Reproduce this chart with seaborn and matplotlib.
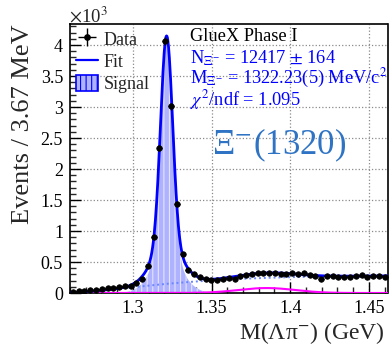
import numpy as np
import pandas as pd
import matplotlib
matplotlib.use("Agg")
import matplotlib.pyplot as plt
import seaborn as sns
from matplotlib.lines import Line2D
from matplotlib.patches import Patch
from matplotlib.ticker import MultipleLocator, FuncFormatter

# ---------------- data ----------------
bin_low = 1.26          # GeV
bin_width = 0.00367     # GeV (3.67 MeV)
counts = [0.015, 0.025, 0.035, 0.045, 0.055, 0.065, 0.080, 0.088, 0.095, 0.105,
          0.120, 0.160, 0.225, 0.430, 0.900, 2.340, 4.070, 3.010, 1.440, 0.630,
          0.370, 0.310, 0.265, 0.225, 0.215, 0.215, 0.226, 0.240, 0.230, 0.280,
          0.295, 0.305, 0.320, 0.330, 0.320, 0.315, 0.310, 0.310, 0.320, 0.310,
          0.330, 0.295, 0.280, 0.230, 0.280, 0.275, 0.260, 0.260, 0.260, 0.270,
          0.290, 0.260, 0.280, 0.270, 0.260]          # events x 10^3

# fit model parameters
sig_amp, sig_mean, sig_frac, sig_s1, sig_s2 = 4.0, 1.3214, 0.85, 0.0038, 0.0095
bg_norm, bg_thr, bg_tau, bg_pow = 0.28, 1.2553, 0.08, 1.5
refl_amp, refl_mean, refl_sigma = 0.08, 1.385, 0.018

x_ticks = [1.30, 1.35, 1.40, 1.45]
legend_labels = ["Data", "Fit", "Signal"]
info_lines = ["GlueX Phase I",
              r"N$_{\Xi^{-}}$ = 12417 $\pm$ 164",
              r"M$_{\Xi^{-}}$ = 1322.23(5) MeV/c$^{2}$",
              r"$\chi^{2}$/ndf = 1.095"]

# ---------------- derived ----------------
n_bins = len(counts)
counts = np.array(counts)
centers = bin_low + bin_width * (np.arange(n_bins) + 0.5)
yerr = np.sqrt(counts * 1000.0) / 1000.0
x_hi = bin_low + bin_width * n_bins

m = np.linspace(bin_low, x_hi, 800)
signal = sig_amp * (sig_frac * np.exp(-0.5 * ((m - sig_mean) / sig_s1) ** 2)
                    + (1 - sig_frac) * np.exp(-0.5 * ((m - sig_mean) / sig_s2) ** 2))
d = np.clip(m - bg_thr, 0, None) / bg_tau
background = bg_norm * (1 - np.exp(-d ** bg_pow))
reflection = refl_amp * np.exp(-0.5 * ((m - refl_mean) / refl_sigma) ** 2)
total = signal + background + reflection
fit = pd.DataFrame({"mass": m, "total": total, "signal": signal,
                    "background": background, "reflection": reflection})
data = pd.DataFrame({"mass": centers, "events": counts})

# ---------------- style ----------------
sns.set_theme(style="ticks")
plt.rcParams["font.family"] = ["Liberation Serif", "DejaVu Serif"]
plt.rcParams["mathtext.fontset"] = "stix"
plt.rcParams["hatch.linewidth"] = 0.8
plt.rcParams["hatch.color"] = "#e4e4ff"

fig = plt.figure(figsize=(3.89, 3.45), dpi=100)
ax = fig.add_axes([70 / 389, 1 - 293 / 345, 317.5 / 389, 269 / 345])

# signal fill
ax.fill_between(fit["mass"], 0, fit["signal"], facecolor="#aeb2ff",
                edgecolor="#e4e4ff", hatch="|||", linewidth=0, zorder=1)
# components
sns.lineplot(data=fit, x="mass", y="background", ax=ax, color="#6a86ff",
             lw=1.4, ls=(0, (1, 1.5)), estimator=None, sort=False, zorder=2)
sns.lineplot(data=fit, x="mass", y="reflection", ax=ax, color="#ff00ff",
             lw=1.5, estimator=None, sort=False, zorder=3)
sns.lineplot(data=fit, x="mass", y="total", ax=ax, color="#0000ff",
             lw=2.0, estimator=None, sort=False, zorder=4)
# data
ax.errorbar(centers, counts, xerr=bin_width / 2, yerr=yerr, fmt="none",
            ecolor="black", elinewidth=1.0, capsize=0, zorder=5)
sns.scatterplot(data=data, x="mass", y="events", ax=ax, color="black",
                s=16, edgecolor="black", linewidth=0.5, zorder=6, legend=False)

ax.set_xlim(bin_low, x_hi)
ax.set_ylim(0, 4.34)
ax.set_xticks(x_ticks)
ax.xaxis.set_minor_locator(MultipleLocator(0.01))
ax.yaxis.set_major_locator(MultipleLocator(0.5))
ax.yaxis.set_minor_locator(MultipleLocator(0.1))
fmt = FuncFormatter(lambda v, p: f"{v:g}")
ax.xaxis.set_major_formatter(fmt)
ax.yaxis.set_major_formatter(fmt)
ax.tick_params(which="major", direction="in", length=8, width=1.0,
               labelsize=13, top=False, right=False, pad=5, colors="black")
ax.tick_params(which="minor", direction="in", length=4, width=1.0,
               top=False, right=False)
ax.grid(True, which="major", ls=":", lw=0.9, color="#8a8a8a", zorder=0)
ax.set_axisbelow(True)
for s in ax.spines.values():
    s.set_linewidth(1.2)
    s.set_color("black")

ax.set_xlabel("M(Λπ$^{-}$) (GeV)", fontsize=17)
ax.xaxis.set_label_coords(0.992, -0.1)
ax.xaxis.label.set_horizontalalignment("right")
ax.xaxis.label.set_verticalalignment("top")
ax.set_ylabel("Events / 3.67 MeV", fontsize=19, loc="top", labelpad=5)
fig.text(69 / 389, 1 - 16 / 345, r"$\times$10$^{3}$", fontsize=13.5, ha="left",
         va="center")

# legend
h_data = ax.errorbar([np.nan], [np.nan], xerr=[0.001], yerr=[0.1], fmt="o",
                     color="black", ms=3.8, elinewidth=1.0, capsize=0)
h_fit = Line2D([], [], color="#0000ff", lw=1.6)
h_sig = Patch(facecolor="#aeb2ff", edgecolor="#0000ff", hatch="|||", lw=1.2)
ax.legend([h_data, h_fit, h_sig], legend_labels, loc="upper left",
          frameon=False, fontsize=13, handlelength=1.2, handleheight=1.0,
          handletextpad=0.3, labelspacing=0.22, borderaxespad=0.1,
          borderpad=0.25)

# info text
info_y = [0.952, 0.874, 0.799, 0.717]
for i, (t, yy) in enumerate(zip(info_lines, info_y)):
    ax.text(0.378, yy, t, transform=ax.transAxes, fontsize=13.2,
            color="black" if i == 0 else "#0000ff", ha="left", va="center")
ax.text(0.446, 0.55, r"Ξ$^{-}$(1320)", transform=ax.transAxes, fontsize=25,
        color="#2e73c4", ha="left", va="center")

fig.savefig("out.png", dpi=100)
